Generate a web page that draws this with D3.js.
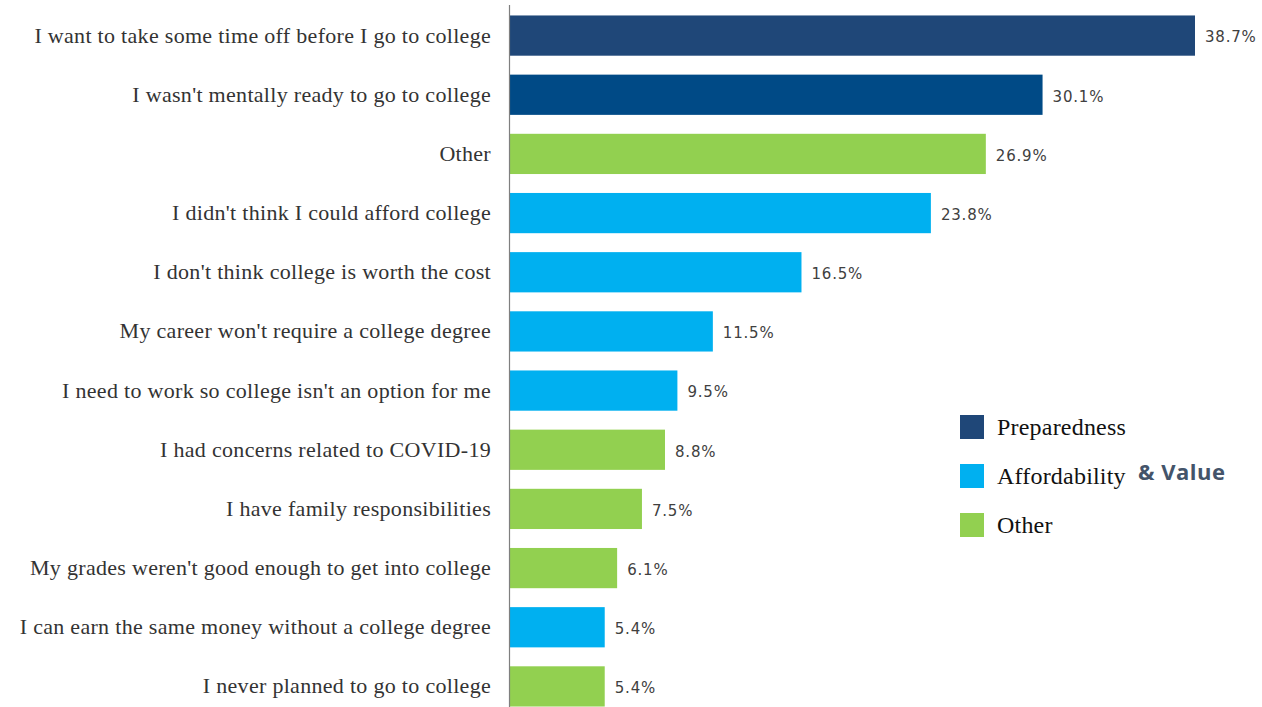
<!DOCTYPE html>
<html>
<head>
<meta charset="utf-8">
<script src="https://cdn.jsdelivr.net/npm/d3@7"></script>
<style>
  body { margin: 0; background: #fff; }
  svg { display: block; }
</style>
</head>
<body>
<svg id="chart" width="1262" height="707"></svg>
<script>
// reasons for not going to college, share of respondents (%)
let reasons = [
  "I want to take some time off before I go to college",
  "I wasn't mentally ready to go to college",
  "Other",
  "I didn't think I could afford college",
  "I don't think college is worth the cost",
  "My career won't require a college degree",
  "I need to work so college isn't an option for me",
  "I had concerns related to COVID-19",
  "I have family responsibilities",
  "My grades weren't good enough to get into college",
  "I can earn the same money without a college degree",
  "I never planned to go to college"
];
let values = [38.7, 30.1, 26.9, 23.8, 16.5, 11.5, 9.5, 8.8, 7.5, 6.1, 5.4, 5.4];
let groups = ["prep", "prep2", "other", "afford", "afford", "afford", "afford",
              "other", "other", "other", "afford", "other"];

let legendItems = [
  {key: "prep", label: "Preparedness"},
  {key: "afford", label: "Affordability"},
  {key: "other", label: "Other"}
];

let colors = {
  prep: "#1f4778",
  prep2: "#004a86",
  afford: "#00b0f0",
  other: "#92d050"
};

let svg = d3.select("#chart");

// set the ranges
let x = d3.scaleLinear()
  .domain([0, 38.7])
  .range([509, 1195]);

let y = d3.scaleBand()
  .domain(reasons)
  .range([6, 716])
  .paddingInner(0.32)
  .paddingOuter(0.16);

// bars
svg.selectAll("rect.bar")
  .data(values)
  .enter().append("rect")
    .attr("class", "bar")
    .attr("x", x(0))
    .attr("y", (d, i) => y(reasons[i]))
    .attr("width", d => x(d) - x(0))
    .attr("height", y.bandwidth())
    .attr("fill", (d, i) => colors[groups[i]]);

// value labels
svg.selectAll("text.val")
  .data(values)
  .enter().append("text")
    .attr("class", "val")
    .attr("x", d => x(d) + 10)
    .attr("y", (d, i) => y(reasons[i]) + y.bandwidth() / 2)
    .attr("dy", "0.45em")
    .style("font-family", "'DejaVu Sans', Verdana, sans-serif")
    .style("font-size", "15px")
    .style("letter-spacing", "0.8px")
    .style("fill", "#404040")
    .text(d => d.toFixed(1) + "%");

// category axis
let yAxis = svg.append("g")
  .attr("transform", "translate(" + x(0) + ",0)")
  .call(d3.axisLeft(y).tickSize(0).tickPadding(18));

yAxis.select(".domain")
  .attr("d", "M0.5,5V707")
  .attr("stroke", "#7f7f7f")
  .attr("stroke-width", 1.2);

yAxis.selectAll("text")
  .style("font-family", "'Liberation Serif', Georgia, serif")
  .style("font-size", "22px")
  .style("letter-spacing", "0.3px")
  .style("fill", "#333");

// legend
let legend = svg.append("g")
  .attr("transform", "translate(960,415)");

let item = legend.selectAll("g")
  .data(legendItems)
  .enter().append("g")
    .attr("transform", (d, i) => "translate(0," + i * 49 + ")");

item.append("rect")
  .attr("width", 24)
  .attr("height", 24)
  .attr("fill", d => colors[d.key]);

item.append("text")
  .attr("x", 37)
  .attr("y", 12)
  .attr("dy", "0.35em")
  .style("font-family", "'Liberation Serif', Georgia, serif")
  .style("font-size", "24px")
  .style("letter-spacing", "0.2px")
  .style("fill", "#111")
  .text(d => d.label);

// the "& Value" bit sits apart from the legend text
svg.append("text")
  .attr("x", 1138)
  .attr("y", 472)
  .attr("dy", "0.35em")
  .style("font-family", "'Open Sans', 'DejaVu Sans', sans-serif")
  .style("font-weight", "bold")
  .style("font-size", "22px")
  .style("letter-spacing", "0.5px")
  .style("fill", "#44546a")
  .text("& Value");
</script>
</body>
</html>
